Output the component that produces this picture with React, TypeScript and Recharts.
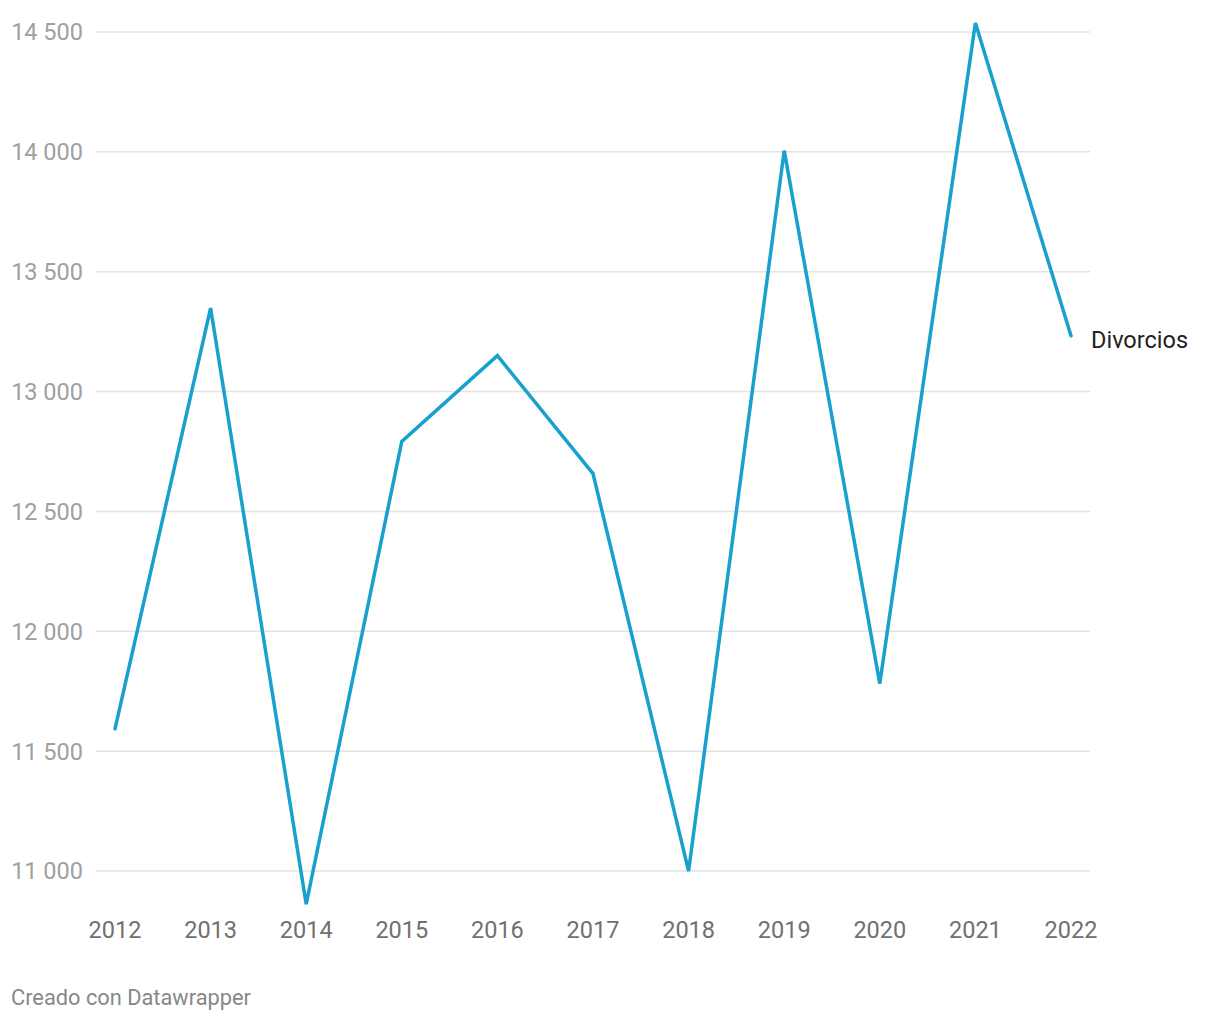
import React from "react";
import { LineChart, Line, XAxis, YAxis, ReferenceLine } from "recharts";

const years = [2012, 2013, 2014, 2015, 2016, 2017, 2018, 2019, 2020, 2021, 2022];
const divorcios = [11593, 13348, 10862, 12792, 13150, 12658, 11000, 14005, 11782, 14537, 13233];
const yTicks = [11000, 11500, 12000, 12500, 13000, 13500, 14000, 14500];
const seriesName = "Divorcios";
const credit = "Creado con Datawrapper";

const data = years.map((y, i) => ({ year: y, value: divorcios[i] }));

const FONT = "Roboto, 'Noto Sans', sans-serif";

const fmt = (v: number) => String(v).replace(/\B(?=(\d{3})+(?!\d))/g, " ");

const YTick = (props: any) => {
  const { x, y, payload } = props;
  return (
    <text x={x} y={y} dy="0.355em" textAnchor="end" fill="#a0a0a0" fontSize={23.5} fontFamily={FONT}>
      {fmt(payload.value)}
    </text>
  );
};

const XTick = (props: any) => {
  const { x, y, payload } = props;
  return (
    <text x={x} y={y} dy={19} textAnchor="middle" fill="#707070" fontSize={23.5} fontFamily={FONT}>
      {payload.value}
    </text>
  );
};

const EndLabel = (props: any) => {
  const { x, y, index } = props;
  if (index !== years.length - 1) return null;
  return (
    <text x={x + 20} y={y + 12.5} textAnchor="start" fill="#222" fontSize={23.5} fontFamily={FONT}>
      {seriesName}
    </text>
  );
};

export default function App() {
  return (
    <div style={{ position: "relative", width: 1220, height: 1020, margin: -8, background: "#fff" }}>
      <LineChart
        width={1220}
        height={1020}
        data={data}
        margin={{ top: 8, right: 130, bottom: 61, left: 0 }}
      >
        <XAxis
          dataKey="year"
          type="number"
          domain={[2012, 2022]}
          ticks={years}
          padding={{ left: 19, right: 19 }}
          axisLine={false}
          tickLine={false}
          tickSize={0}
          tickMargin={0}
          height={40}
          tick={<XTick />}
          interval={0}
        />
        <YAxis
          type="number"
          domain={[10800, 14600]}
          allowDataOverflow
          ticks={yTicks}
          axisLine={false}
          tickLine={false}
          tickSize={0}
          tickMargin={13}
          width={96}
          tick={<YTick />}
          interval={0}
        />
        {yTicks.map((t) => (
          <ReferenceLine key={t} y={t} stroke="#e3e3e3" strokeWidth={1.5} ifOverflow="visible" />
        ))}
        <Line
          type="linear"
          dataKey="value"
          stroke="#18a1cd"
          strokeWidth={3.5}
          dot={false}
          activeDot={false}
          strokeLinecap="round"
          isAnimationActive={false}
          label={<EndLabel />}
        />
      </LineChart>
      <div
        style={{
          position: "absolute",
          left: 11,
          top: 985,
          fontFamily: FONT,
          fontSize: 21.8,
          color: "#888",
          lineHeight: "26px",
          whiteSpace: "nowrap",
        }}
      >
        {credit}
      </div>
    </div>
  );
}
